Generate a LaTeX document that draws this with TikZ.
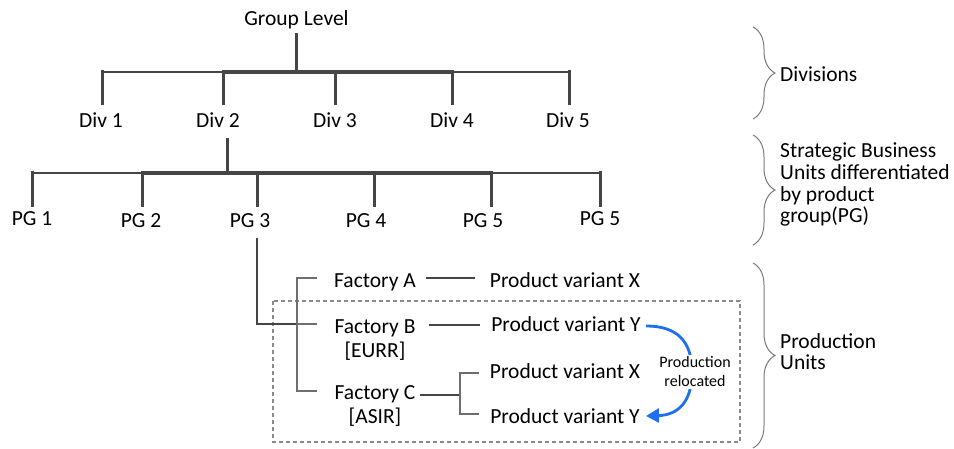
\documentclass[tikz,border=0pt]{standalone}
\usepackage{fontspec}
\setmainfont{Carlito}
\usetikzlibrary{arrows.meta,decorations.pathreplacing}
\definecolor{treeline}{HTML}{454545}
\definecolor{thinline}{HTML}{6E6E6E}
\definecolor{boxline}{HTML}{8A8A8A}
\definecolor{bracecol}{HTML}{7A7A7A}
\definecolor{relocblue}{HTML}{1E6EF0}
\begin{document}
\begin{tikzpicture}[x=1pt,y=-1pt,
  lbl/.style={inner sep=0pt, anchor=base, font=\fontsize{21.5}{23.5}\selectfont},
  sidelbl/.style={inner sep=0pt, anchor=base west, align=left, font=\fontsize{21.5}{21.7}\selectfont},
  trunk/.style={draw=treeline, line width=3pt},
  barthin/.style={draw=treeline, line width=2.4pt},
  barthick/.style={draw=treeline, line width=3.4pt},
  link/.style={draw=treeline, line width=2pt},
  twig/.style={draw=thinline, line width=1.2pt},
  dashbox/.style={draw=boxline, line width=1.1pt, dash pattern=on 4pt off 3pt},
  brc/.style={draw=bracecol, line width=1pt, decorate, decoration={brace, amplitude=22pt}},
  reloc/.style={draw=relocblue, line width=2.8pt, -{Triangle[length=13pt,width=14pt]}}]
\useasboundingbox (0,0) rectangle (954,449);

% ---- group and divisions
\node[lbl] (gl) at (296.5,26) {Group Level};
\node[lbl] (d1) at (101,128) {Div 1};
\node[lbl] (d2) at (218,128) {Div 2};
\node[lbl] (d3) at (335,128) {Div 3};
\node[lbl] (d4) at (452,128) {Div 4};
\node[lbl] (d5) at (568,128) {Div 5};

\coordinate (gj) at (296,72);
\draw[trunk] (296,33) -- (gj);
\draw[barthin] (102,72) -- (223,72);
\draw[barthick] (223,72) -- (452,72);
\draw[barthin] (452,72) -- (569,72);
\foreach \x in {102,223,335,452,569}
  \draw[trunk] (\x,70.5) -- (\x,105);

% ---- product groups of Div 2
\node[lbl] (p1) at (32,226) {PG 1};
\node[lbl] (p2) at (141,228) {PG 2};
\node[lbl] (p3) at (250,228) {PG 3};
\node[lbl] (p4) at (366,228) {PG 4};
\node[lbl] (p5) at (483,228) {PG 5};
\node[lbl] (p6) at (600,226) {PG 5};

\draw[trunk] (227,138) -- (227,173);
\draw[barthin] (32,173) -- (142,173);
\draw[barthick] (142,173) -- (491,173);
\draw[barthin] (491,173) -- (600,173);
\foreach \x in {32,142,257,374,491,600}
  \draw[trunk] (\x,171.5) -- (\x,207);

% ---- factories and product variants (multi-line nodes sit on their last baseline)
\node[lbl] (fa) at (375,288) {Factory A};
\node[lbl, align=center] (fb) at (375,357) {Factory B\\{[}EURR{]}};
\node[lbl, align=center] (fc) at (375,423) {Factory C\\{[}ASIR{]}};
\node[lbl] (vx1) at (565,288) {Product variant X};
\node[lbl] (vy1) at (566,332) {Product variant Y};
\node[lbl] (vx2) at (565,378) {Product variant X};
\node[lbl] (vy2) at (565,423) {Product variant Y};

% relocation scope
\draw[dashbox] (273,301) rectangle (740,442);

% PG 3 to its factories
\draw[link] (257,238) -- (257,324) -- (297,324);
\draw[twig] (317,278) -- (297,278) -- (297,391) -- (317,391);
\draw[twig] (297,324) -- (317,324);

% factory to variant links
\draw[link] (426,278) -- (475,278);
\draw[link] (429,325) -- (480,325);
\draw[link] (420,395) -- (460,395);
\draw[twig] (479,373) -- (460,373) -- (460,414) -- (479,414);

% relocation arrow
\draw[reloc] (646,326) .. controls (676,326) and (692,340) .. (692,372)
  .. controls (692,402) and (678,415) .. (646,416);
\node[fill=white, inner sep=2pt, align=center,
  font=\fontsize{16}{19}\selectfont] (rl) at (695,372) {Production\\relocated};

% ---- level braces
\draw[brc] (753,27) -- (753,119);
\draw[brc] (753,135) -- (753,245);
\draw[brc] (753,263) -- (753,448);
\node[sidelbl] (lv1) at (780,82) {Divisions};
\node[sidelbl] (lv2) at (780,223) {Strategic Business\\Units differentiated\\by product\\group(PG)};
\node[sidelbl] (lv3) at (780,370) {Production\\Units};
\end{tikzpicture}
\end{document}
